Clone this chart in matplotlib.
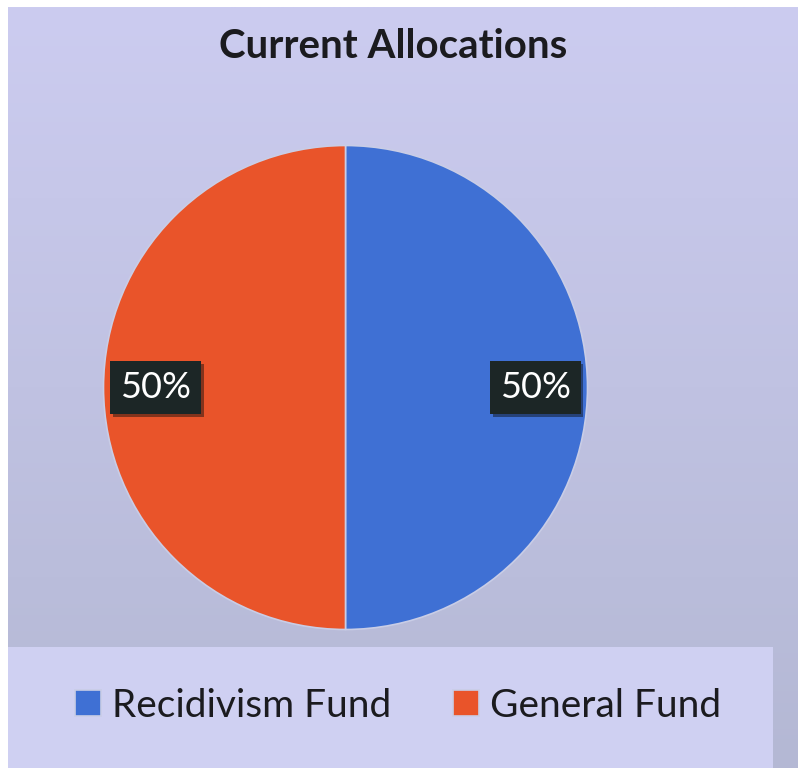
import matplotlib
matplotlib.use("Agg")
import matplotlib.pyplot as plt
import matplotlib.patheffects as pe
from matplotlib.patches import Rectangle
import numpy as np

# chart data
labels = ["Recidivism Fund", "General Fund"]
shares = [50, 50]
colors = ["#3f70d4", "#e9542a"]
title = "Current Allocations"

plt.rcParams["font.family"] = ["Lato", "DejaVu Sans"]

W, H = 798, 768
fig = plt.figure(figsize=(W / 100, H / 100), dpi=100)
fig.patch.set_facecolor("white")

# background panel with soft vertical gradient
bg = fig.add_axes([8 / W, 0, 1 - 8 / W, (H - 7) / H], zorder=0)
top = np.array([204, 204, 240]) / 255
bottom = np.array([180, 184, 212]) / 255
t = np.linspace(0, 1, 256)[:, None]
grad = top * (1 - t) + bottom * t
bg.imshow(grad[:, None, :].repeat(2, axis=1), aspect="auto",
          extent=[0, 1, 0, 1], origin="upper")
bg.set_xlim(0, 1)
bg.set_ylim(0, 1)
bg.axis("off")

# lighter band behind the legend
legend_h = (H - 647) / (H - 7)
bg.add_patch(Rectangle((0, 0), (773 - 8) / (W - 8), legend_h,
                       facecolor="#cfd0f2", edgecolor="none", zorder=2))

fig.text(393 / W, 1 - 46 / H, title, ha="center", va="center",
         fontsize=29, fontweight="bold", color="#1b1b1f")

# pie
r = 242
cx, cy = 345.5, 387.5
ax = fig.add_axes([(cx - r) / W, (H - cy - r) / H, 2 * r / W, 2 * r / H],
                  zorder=1)
wedges, texts, autotexts = ax.pie(
    shares, colors=colors, startangle=90, counterclock=False,
    autopct="%d%%", pctdistance=0.785, radius=1,
    wedgeprops=dict(edgecolor="#c9cde6", linewidth=1.2),
    textprops=dict(color="white", fontsize=26),
)
ax.set_xlim(-1, 1)
ax.set_ylim(-1, 1)
ax.set_aspect("auto")

for t_ in autotexts:
    t_.set_bbox(dict(boxstyle="square,pad=0.27", facecolor="#1c2626",
                     edgecolor="none"))
    t_.get_bbox_patch().set_path_effects(
        [pe.SimplePatchShadow(offset=(2, -2), alpha=0.45), pe.Normal()])

fig.legend(wedges, labels, loc="center", ncol=2,
           bbox_to_anchor=(398 / W, 1 - 706 / H), frameon=False,
           fontsize=28, handlelength=0.66, handleheight=0.66,
           handletextpad=0.28, columnspacing=1.6, labelcolor="#1b1b1f")

fig.savefig("out.png", dpi=100)
